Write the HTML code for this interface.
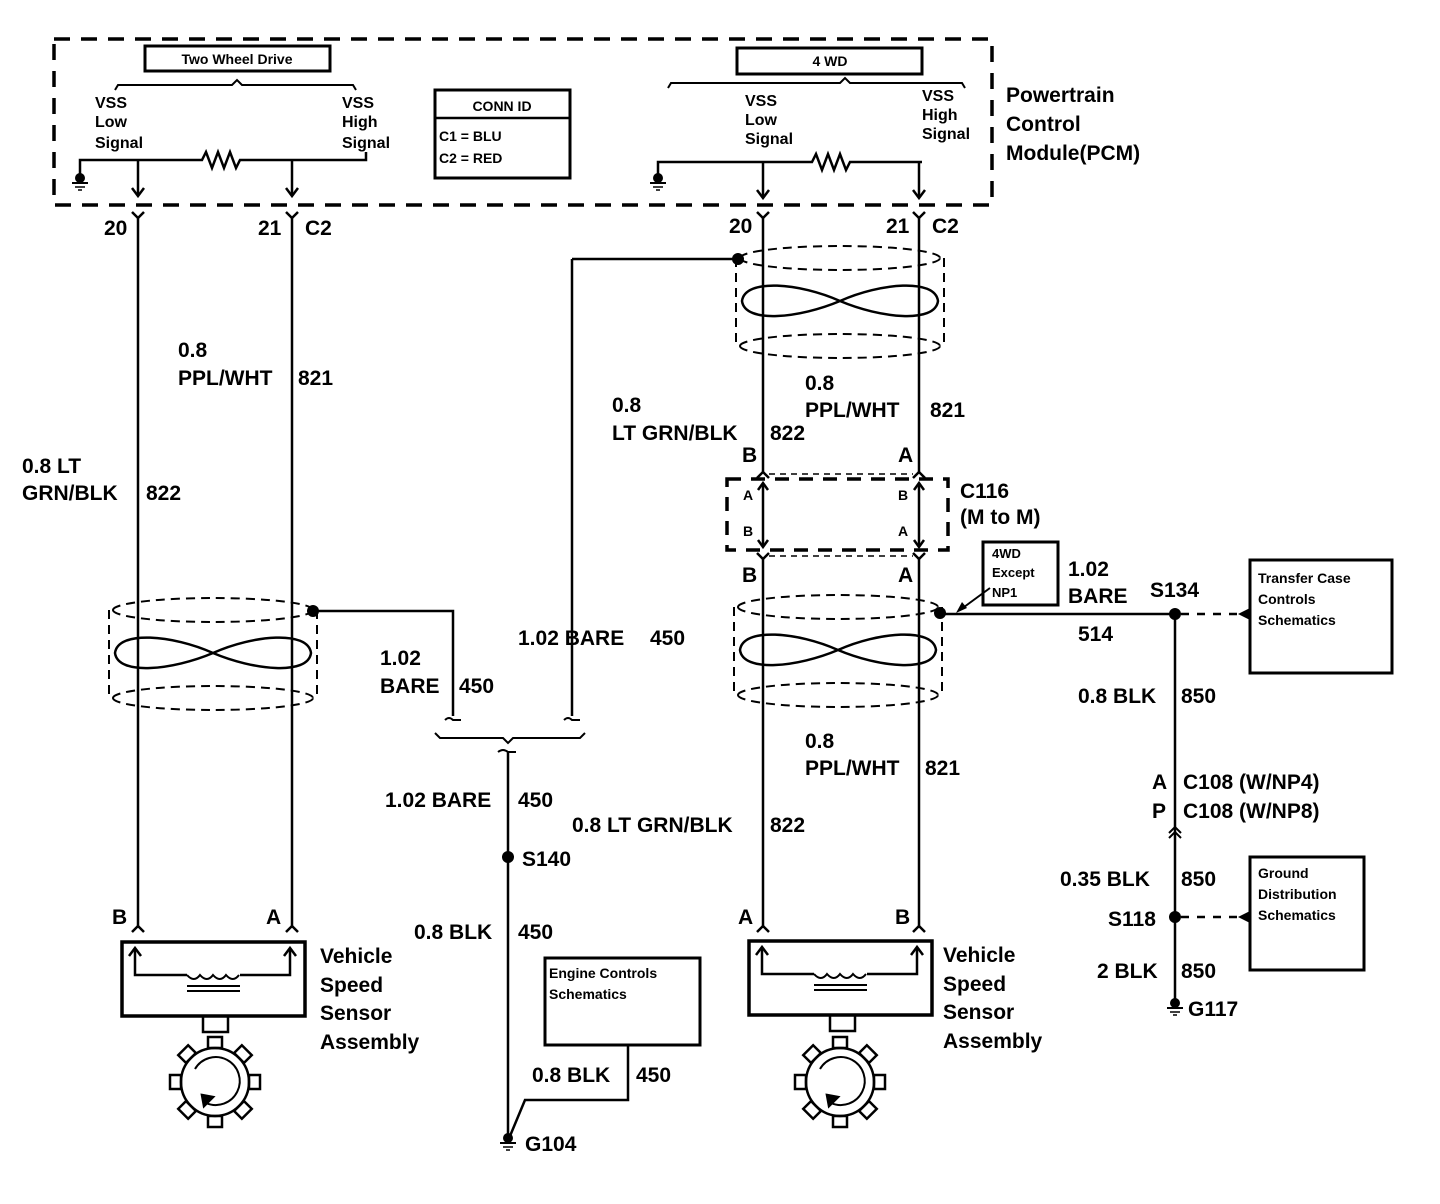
<!DOCTYPE html>
<html><head><meta charset="utf-8"><style>
html,body{margin:0;padding:0;background:#fff;}
svg{display:block;}
text{font-family:"Liberation Sans",Arial,sans-serif;fill:#000;font-weight:bold;}
.l{font-size:21px;}
.s{font-size:16px;}
.b{font-size:14px;}
</style></head><body>
<svg width="1440" height="1204" viewBox="0 0 1440 1204" xmlns="http://www.w3.org/2000/svg" stroke="#000" fill="none" stroke-width="2.5">
<defs>
<g id="gnd"><circle cx="0" cy="0" r="5" fill="#000" stroke="none"/><line x1="-8" y1="5" x2="8" y2="5" stroke-width="2"/><line x1="-5" y1="9" x2="5" y2="9" stroke-width="1.5"/><line x1="-2" y1="12" x2="2" y2="12" stroke-width="1.5"/></g>
<g id="sensor">
<rect x="0" y="0" width="183" height="74" stroke-width="3.5"/>
<polyline points="13,8 13,33 65,33"/><polyline points="7,14 13,6 19,14"/>
<polyline points="168,8 168,33 118,33"/><polyline points="162,14 168,6 174,14"/>
<path d="M65,33 q7,8 13,0 q7,8 13,0 q7,8 13,0 q7,8 13,0" stroke-width="2"/>
<line x1="65" y1="44" x2="118" y2="44" stroke-width="2"/><line x1="65" y1="49" x2="118" y2="49" stroke-width="2"/>
<rect x="81" y="74" width="25" height="16"/>
</g>
<g id="gear">
<circle cx="0" cy="0" r="34"/>
<g stroke-width="2.5"><rect x="-7" y="-45" width="14" height="11"/>
<rect x="-7" y="-45" width="14" height="11" transform="rotate(45)"/>
<rect x="-7" y="-45" width="14" height="11" transform="rotate(90)"/>
<rect x="-7" y="-45" width="14" height="11" transform="rotate(135)"/>
<rect x="-7" y="-45" width="14" height="11" transform="rotate(180)"/>
<rect x="-7" y="-45" width="14" height="11" transform="rotate(225)"/>
<rect x="-7" y="-45" width="14" height="11" transform="rotate(270)"/>
<rect x="-7" y="-45" width="14" height="11" transform="rotate(315)"/></g>
<path d="M-20,-13 A24,24 0 1 1 -9,21" stroke-width="2"/>
<polygon points="-13,13 -2,15 -11,24" fill="#000"/>
</g>
<g id="shield" stroke-width="2">
<path d="M-100,0 A100,12 0 0 1 100,0" stroke-dasharray="9,6"/>
<path d="M-100,0 A100,12 0 0 0 100,0" stroke-dasharray="9,6"/>
<path d="M-100,88 A100,12 0 0 1 100,88" stroke-dasharray="9,6"/>
<path d="M-100,88 A100,12 0 0 0 100,88" stroke-dasharray="9,6"/>
<line x1="-104" y1="0" x2="-104" y2="88" stroke-dasharray="9,6"/>
<line x1="104" y1="0" x2="104" y2="88" stroke-dasharray="9,6"/>
<path d="M0,43 C-40,25 -95,20 -98,43 C-95,66 -40,60 0,43 C40,25 95,20 98,43 C95,66 40,60 0,43Z" stroke-width="2.5"/>
</g>
</defs>

<!-- PCM -->
<rect x="54" y="39" width="938" height="166" stroke-width="3.5" stroke-dasharray="16,11"/>
<rect x="145" y="46" width="185" height="25" stroke-width="3"/>
<text x="237" y="64" class="b" text-anchor="middle" stroke="none">Two Wheel Drive</text>
<path d="M115,90 L118,85 L232,85 L237,80 L242,85 L353,85 L356,90" stroke-width="2"/>
<text x="95" y="108" class="s" stroke="none">VSS</text><text x="95" y="127" class="s" stroke="none">Low</text><text x="95" y="148" class="s" stroke="none">Signal</text>
<text x="342" y="108" class="s" stroke="none">VSS</text><text x="342" y="127" class="s" stroke="none">High</text><text x="342" y="148" class="s" stroke="none">Signal</text>
<polyline points="80,175 80,160 202,160 206,152 212,168 218,152 224,168 230,152 236,168 240,160 366,160 366,152"/>
<use href="#gnd" x="80" y="178"/>
<line x1="138" y1="160" x2="138" y2="196"/><polyline points="132,188 138,196 144,188"/>
<line x1="292" y1="160" x2="292" y2="196"/><polyline points="286,188 292,196 298,188"/>

<rect x="435" y="90" width="135" height="88" stroke-width="3"/><line x1="435" y1="118" x2="570" y2="118"/>
<text x="502" y="111" class="b" text-anchor="middle" stroke="none">CONN ID</text>
<text x="439" y="141" class="b" stroke="none">C1 = BLU</text><text x="439" y="163" class="b" stroke="none">C2 = RED</text>

<rect x="737" y="48" width="185" height="26" stroke-width="3"/>
<text x="830" y="66" class="b" text-anchor="middle" stroke="none">4 WD</text>
<path d="M668,88 L671,83 L840,83 L845,78 L850,83 L962,83 L965,88" stroke-width="2"/>
<text x="745" y="106" class="s" stroke="none">VSS</text><text x="745" y="125" class="s" stroke="none">Low</text><text x="745" y="144" class="s" stroke="none">Signal</text>
<text x="922" y="101" class="s" stroke="none">VSS</text><text x="922" y="120" class="s" stroke="none">High</text><text x="922" y="139" class="s" stroke="none">Signal</text>
<polyline points="658,175 658,162 812,162 816,154 822,170 828,154 834,170 840,154 846,170 850,162 922,162"/>
<use href="#gnd" x="658" y="178"/>
<line x1="763" y1="162" x2="763" y2="198"/><polyline points="757,190 763,198 769,190"/>
<line x1="919" y1="162" x2="919" y2="198"/><polyline points="913,190 919,198 925,190"/>
<text x="1006" y="102" class="l" stroke="none">Powertrain</text>
<text x="1006" y="131" class="l" stroke="none">Control</text>
<text x="1006" y="160" class="l" stroke="none">Module(PCM)</text>

<!-- left wires -->
<polyline points="132,212 138,218 144,212"/><polyline points="286,212 292,218 298,212"/>
<line x1="138" y1="218" x2="138" y2="928"/><line x1="292" y1="218" x2="292" y2="928"/>
<text x="104" y="235" class="l" stroke="none">20</text><text x="258" y="235" class="l" stroke="none">21</text><text x="305" y="235" class="l" stroke="none">C2</text>
<text x="178" y="357" class="l" stroke="none">0.8</text><text x="178" y="385" class="l" stroke="none">PPL/WHT</text><text x="298" y="385" class="l" stroke="none">821</text>
<text x="22" y="473" class="l" stroke="none">0.8 LT</text><text x="22" y="500" class="l" stroke="none">GRN/BLK</text><text x="146" y="500" class="l" stroke="none">822</text>
<use href="#shield" x="213" y="610"/>
<circle cx="313" cy="611" r="6" fill="#000" stroke="none"/>
<polyline points="313,611 453,611 453,716"/>
<path d="M445,720 q4,-4 8,0 l8,0" stroke-width="2"/>
<text x="380" y="665" class="l" stroke="none">1.02</text><text x="380" y="693" class="l" stroke="none">BARE</text><text x="459" y="693" class="l" stroke="none">450</text>
<polyline points="572,259 572,716"/>
<path d="M564,720 q4,-4 8,0 l8,0" stroke-width="2"/>
<text x="518" y="645" class="l" stroke="none">1.02 BARE</text><text x="650" y="645" class="l" stroke="none">450</text>
<path d="M435,733 L440,738 L503,738 L508,743 L513,738 L580,738 L585,733" stroke-width="2"/>
<path d="M498,752 q5,-4 10,0 l8,0" stroke-width="2"/>
<line x1="508" y1="752" x2="508" y2="1138"/>
<text x="385" y="807" class="l" stroke="none">1.02 BARE</text><text x="518" y="807" class="l" stroke="none">450</text>
<circle cx="508" cy="857" r="6" fill="#000" stroke="none"/><text x="522" y="866" class="l" stroke="none">S140</text>
<text x="414" y="939" class="l" stroke="none">0.8 BLK</text><text x="518" y="939" class="l" stroke="none">450</text>
<rect x="545" y="958" width="155" height="87" stroke-width="3"/>
<text x="549" y="978" class="b" stroke="none">Engine Controls</text><text x="549" y="999" class="b" stroke="none">Schematics</text>
<polyline points="628,1045 628,1100 525,1100 510,1136"/>
<text x="532" y="1082" class="l" stroke="none">0.8 BLK</text><text x="636" y="1082" class="l" stroke="none">450</text>
<use href="#gnd" x="508" y="1138"/><text x="525" y="1151" class="l" stroke="none">G104</text>

<polyline points="132,932 138,926 144,932"/><polyline points="286,932 292,926 298,932"/>
<text x="112" y="924" class="l" stroke="none">B</text><text x="266" y="924" class="l" stroke="none">A</text>
<use href="#sensor" x="122" y="942"/>
<use href="#gear" x="215" y="1082"/>
<text x="320" y="963" class="l" stroke="none">Vehicle</text><text x="320" y="992" class="l" stroke="none">Speed</text><text x="320" y="1020" class="l" stroke="none">Sensor</text><text x="320" y="1049" class="l" stroke="none">Assembly</text>

<!-- right wires -->
<polyline points="757,212 763,218 769,212"/><polyline points="913,212 919,218 925,212"/>
<line x1="763" y1="218" x2="763" y2="473"/><line x1="919" y1="218" x2="919" y2="473"/>
<text x="729" y="233" class="l" stroke="none">20</text><text x="886" y="233" class="l" stroke="none">21</text><text x="932" y="233" class="l" stroke="none">C2</text>
<use href="#shield" x="840" y="258"/>
<circle cx="738" cy="259" r="6" fill="#000" stroke="none"/>
<line x1="572" y1="259" x2="738" y2="259"/>
<text x="805" y="390" class="l" stroke="none">0.8</text><text x="805" y="417" class="l" stroke="none">PPL/WHT</text><text x="930" y="417" class="l" stroke="none">821</text>
<text x="612" y="412" class="l" stroke="none">0.8</text><text x="612" y="440" class="l" stroke="none">LT GRN/BLK</text><text x="770" y="440" class="l" stroke="none">822</text>
<text x="742" y="462" class="l" stroke="none">B</text><text x="898" y="462" class="l" stroke="none">A</text>
<polyline points="757,478 763,472 769,478"/><polyline points="913,478 919,472 925,478"/>
<line x1="769" y1="474" x2="913" y2="474" stroke-width="1.5" stroke-dasharray="6,5"/>
<rect x="727" y="479" width="221" height="71" stroke-width="3.5" stroke-dasharray="14,10"/>
<line x1="763" y1="483" x2="763" y2="546"/><polyline points="758,490 763,483 768,490"/><polyline points="758,540 763,547 768,540"/>
<line x1="919" y1="483" x2="919" y2="546"/><polyline points="914,490 919,483 924,490"/><polyline points="914,540 919,547 924,540"/>
<text x="743" y="500" class="b" stroke="none">A</text><text x="743" y="536" class="b" stroke="none">B</text>
<text x="898" y="500" class="b" stroke="none">B</text><text x="898" y="536" class="b" stroke="none">A</text>
<text x="960" y="498" class="l" stroke="none">C116</text><text x="960" y="524" class="l" stroke="none">(M to M)</text>
<polyline points="757,553 763,559 769,553"/><polyline points="913,553 919,559 925,553"/>
<line x1="769" y1="556" x2="913" y2="556" stroke-width="1.5" stroke-dasharray="6,5"/>
<line x1="763" y1="559" x2="763" y2="928"/><line x1="919" y1="559" x2="919" y2="928"/>
<text x="742" y="582" class="l" stroke="none">B</text><text x="898" y="582" class="l" stroke="none">A</text>
<use href="#shield" x="838" y="607"/>
<circle cx="940" cy="613" r="6" fill="#000" stroke="none"/>
<line x1="940" y1="614" x2="1175" y2="614"/>
<rect x="983" y="542" width="75" height="63" stroke-width="3"/>
<text x="992" y="558" class="b" stroke="none" style="font-size:13px">4WD</text><text x="992" y="577" class="b" stroke="none" style="font-size:13px">Except</text><text x="992" y="597" class="b" stroke="none" style="font-size:13px">NP1</text>
<line x1="990" y1="588" x2="960" y2="610" stroke-width="2"/><polygon points="956,613 962,602 967,608" fill="#000" stroke="none"/>
<text x="1068" y="576" class="l" stroke="none">1.02</text><text x="1068" y="603" class="l" stroke="none">BARE</text>
<text x="1150" y="597" class="l" stroke="none">S134</text><text x="1078" y="641" class="l" stroke="none">514</text>
<circle cx="1175" cy="614" r="6" fill="#000" stroke="none"/>
<line x1="1181" y1="614" x2="1240" y2="614" stroke-dasharray="8,8"/><polygon points="1250,608 1250,620 1238,614" fill="#000" stroke="none"/>
<rect x="1250" y="560" width="142" height="113" stroke-width="3"/>
<text x="1258" y="583" class="b" stroke="none">Transfer Case</text><text x="1258" y="604" class="b" stroke="none">Controls</text><text x="1258" y="625" class="b" stroke="none">Schematics</text>
<line x1="1175" y1="614" x2="1175" y2="1003"/>
<text x="1078" y="703" class="l" stroke="none">0.8 BLK</text><text x="1181" y="703" class="l" stroke="none">850</text>
<text x="1152" y="789" class="l" stroke="none">A</text><text x="1183" y="789" class="l" stroke="none">C108 (W/NP4)</text>
<text x="1152" y="818" class="l" stroke="none">P</text><text x="1183" y="818" class="l" stroke="none">C108 (W/NP8)</text>
<polyline points="1169,833 1175,827 1181,833" stroke-width="2"/><polyline points="1169,838 1175,832 1181,838" stroke-width="2"/>
<text x="1060" y="886" class="l" stroke="none">0.35 BLK</text><text x="1181" y="886" class="l" stroke="none">850</text>
<circle cx="1175" cy="917" r="6" fill="#000" stroke="none"/><text x="1108" y="926" class="l" stroke="none">S118</text>
<line x1="1181" y1="917" x2="1240" y2="917" stroke-dasharray="8,8"/><polygon points="1250,911 1250,923 1238,917" fill="#000" stroke="none"/>
<rect x="1250" y="857" width="114" height="113" stroke-width="3"/>
<text x="1258" y="878" class="b" stroke="none">Ground</text><text x="1258" y="899" class="b" stroke="none">Distribution</text><text x="1258" y="920" class="b" stroke="none">Schematics</text>
<text x="1097" y="978" class="l" stroke="none">2 BLK</text><text x="1181" y="978" class="l" stroke="none">850</text>
<use href="#gnd" x="1175" y="1003"/><text x="1188" y="1016" class="l" stroke="none">G117</text>

<text x="805" y="748" class="l" stroke="none">0.8</text><text x="805" y="775" class="l" stroke="none">PPL/WHT</text><text x="925" y="775" class="l" stroke="none">821</text>
<text x="572" y="832" class="l" stroke="none">0.8 LT GRN/BLK</text><text x="770" y="832" class="l" stroke="none">822</text>
<polyline points="757,932 763,926 769,932"/><polyline points="913,932 919,926 925,932"/>
<text x="738" y="924" class="l" stroke="none">A</text><text x="895" y="924" class="l" stroke="none">B</text>
<use href="#sensor" x="749" y="941"/>
<use href="#gear" x="840" y="1082"/>
<text x="943" y="962" class="l" stroke="none">Vehicle</text><text x="943" y="991" class="l" stroke="none">Speed</text><text x="943" y="1019" class="l" stroke="none">Sensor</text><text x="943" y="1048" class="l" stroke="none">Assembly</text>
</svg>
</body></html>
